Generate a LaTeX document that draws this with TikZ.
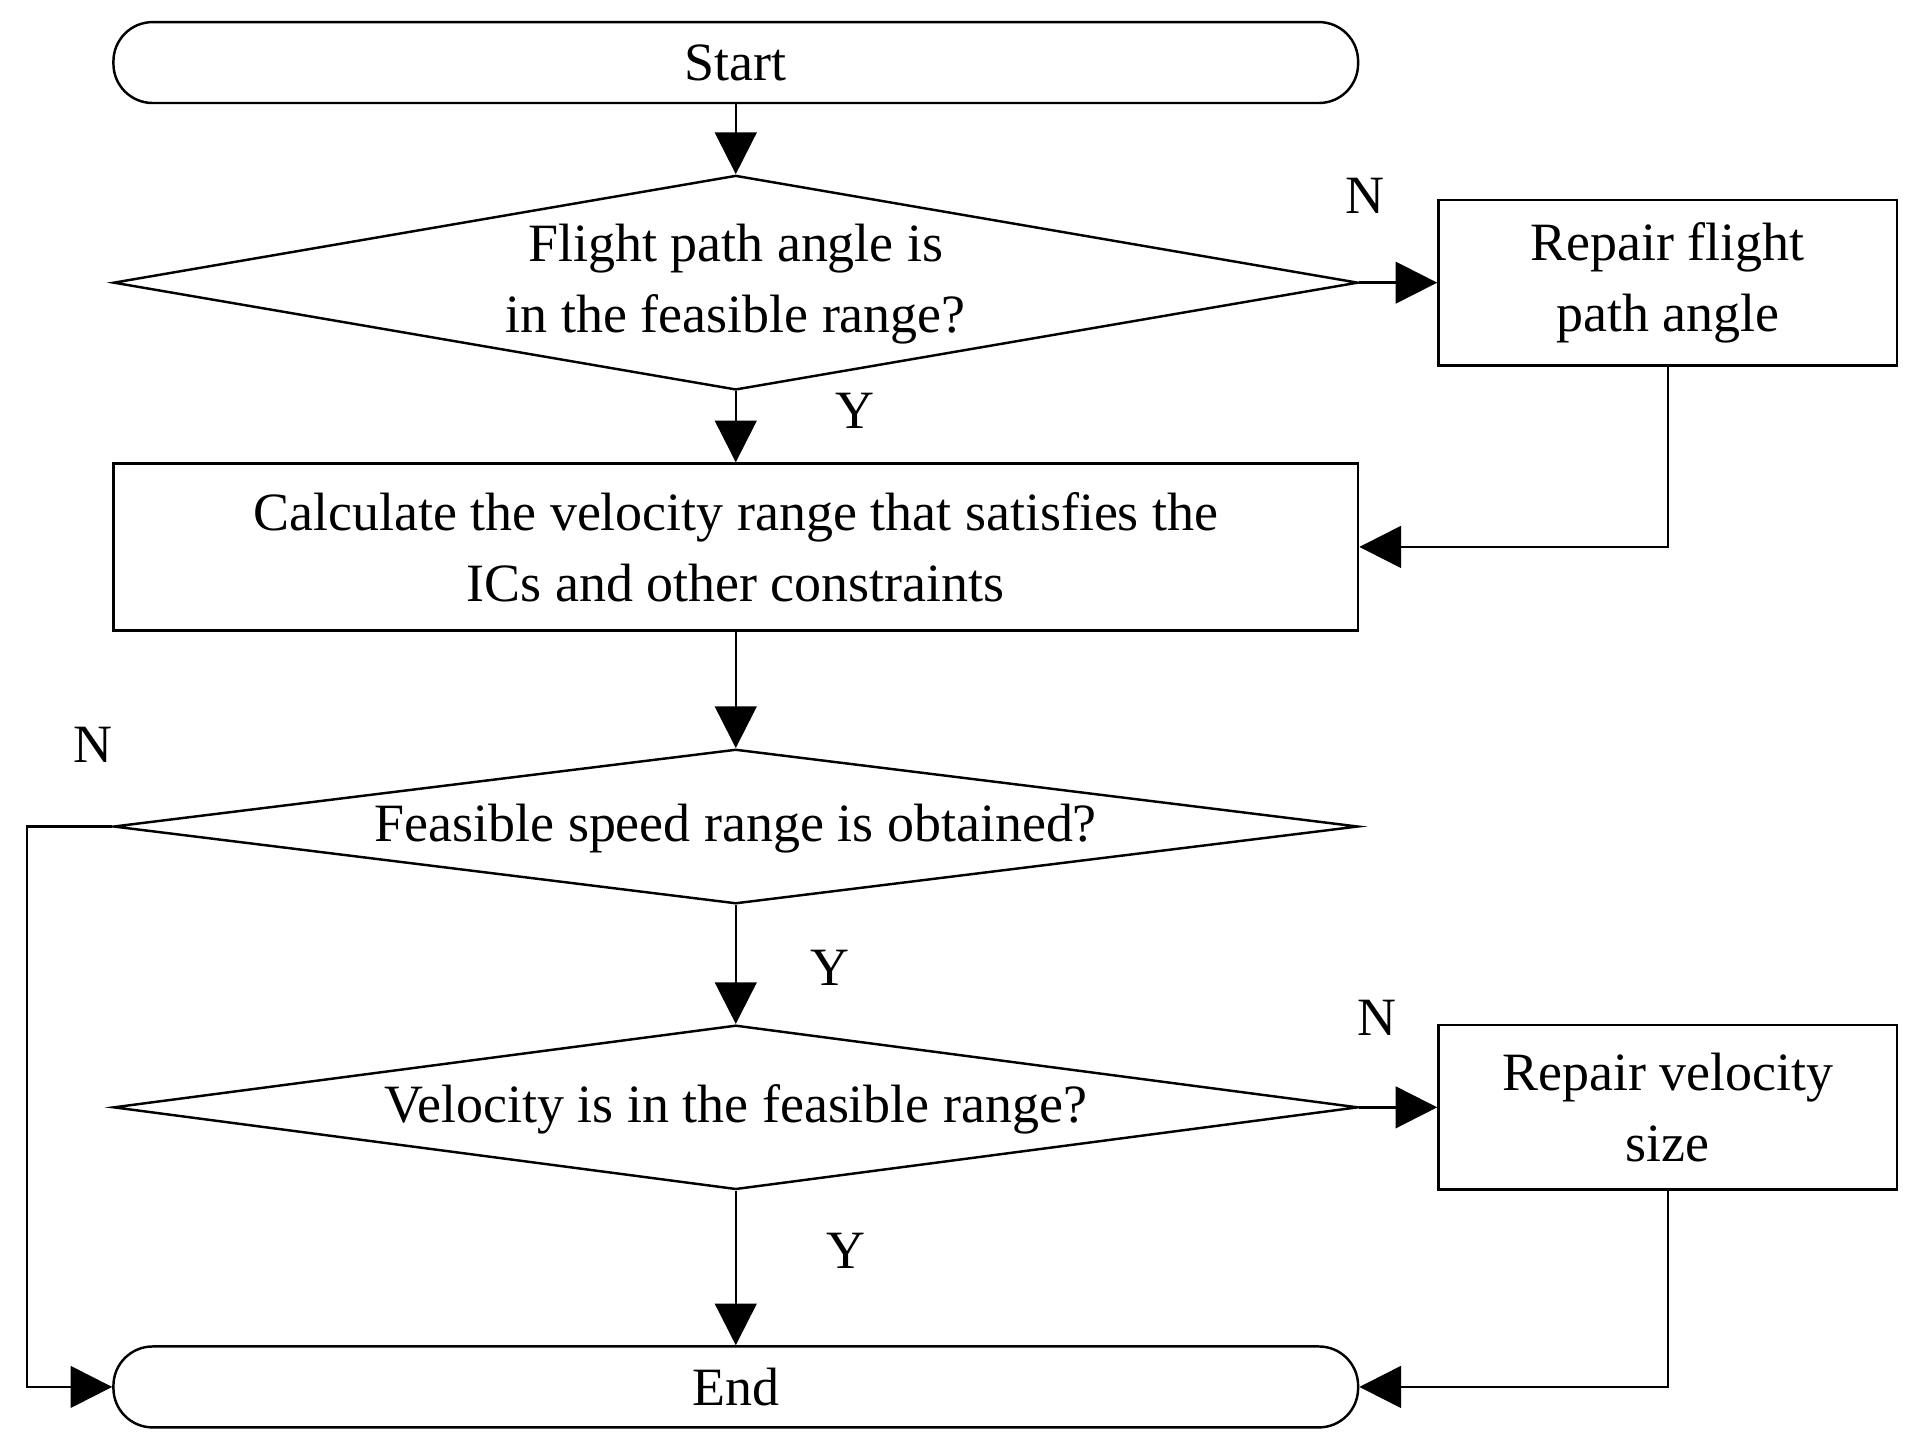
\documentclass[tikz,border=0pt]{standalone}
\usepackage{fontspec}
\setmainfont{Liberation Serif}
\usetikzlibrary{shapes.geometric,arrows.meta}
\begin{document}
\begin{tikzpicture}[x=0.5pt,y=-0.5pt,
  every node/.style={font=\fontsize{22}{29}\selectfont},
  box/.style={draw,line width=1pt,inner sep=0pt,align=center},
  term/.style={box,rounded corners=16pt,minimum width=507.5pt,minimum height=33pt},
  dia/.style={draw,line width=1pt,diamond,inner sep=0pt,minimum width=507.5pt},
  arr/.style={line width=1pt,-{Triangle[length=17pt,width=17pt]}},
  lab/.style={font=\fontsize{22}{26}\selectfont}]
\useasboundingbox (0,0) rectangle (1560,1174);
\node[term] (start) at (600,51) {Start};
\node[dia,minimum height=87.5pt] (d1) at (600,230.5) {};
\node[align=center] at (600,232) {Flight path angle is\\in the feasible range?};
\node[box,minimum width=187pt,minimum height=67.5pt] (r1) at (1360,230.5) {Repair flight\\path angle};
\node[box,minimum width=507.5pt,minimum height=68pt] (calc) at (600,446) {Calculate the velocity range that satisfies the\\ICs and other constraints};
\node[dia,minimum height=63pt] (d2) at (600,674) {};
\node at (600,676) {Feasible speed range is obtained?};
\node[dia,minimum height=67pt] (d3) at (600,903) {};
\node at (600,905) {Velocity is in the feasible range?};
\node[box,minimum width=187pt,minimum height=67pt] (r2) at (1360,903) {Repair velocity\\size};
\node[term] (end) at (600,1131) {End};
\draw[arr] (start) -- (d1);
\draw[arr] (d1) -- (calc);
\draw[arr] (d1) -- (r1);
\draw[arr] (r1.south) |- (calc.east);
\draw[arr] (calc) -- (d2);
\draw[arr] (d2) -- (d3);
\draw[arr] (d3) -- (r2);
\draw[arr] (d3) -- (end);
\draw[arr] (r2.south) |- (end.east);
\coordinate (lc) at (22,674);
\draw[arr] (d2.west) -- (lc) |- (end.west);
\node[lab] at (1113,160) {N};
\node[lab] at (697,335) {Y};
\node[lab] at (76,607) {N};
\node[lab] at (677,789) {Y};
\node[lab] at (1123,830) {N};
\node[lab] at (690,1020) {Y};
\end{tikzpicture}
\end{document}
